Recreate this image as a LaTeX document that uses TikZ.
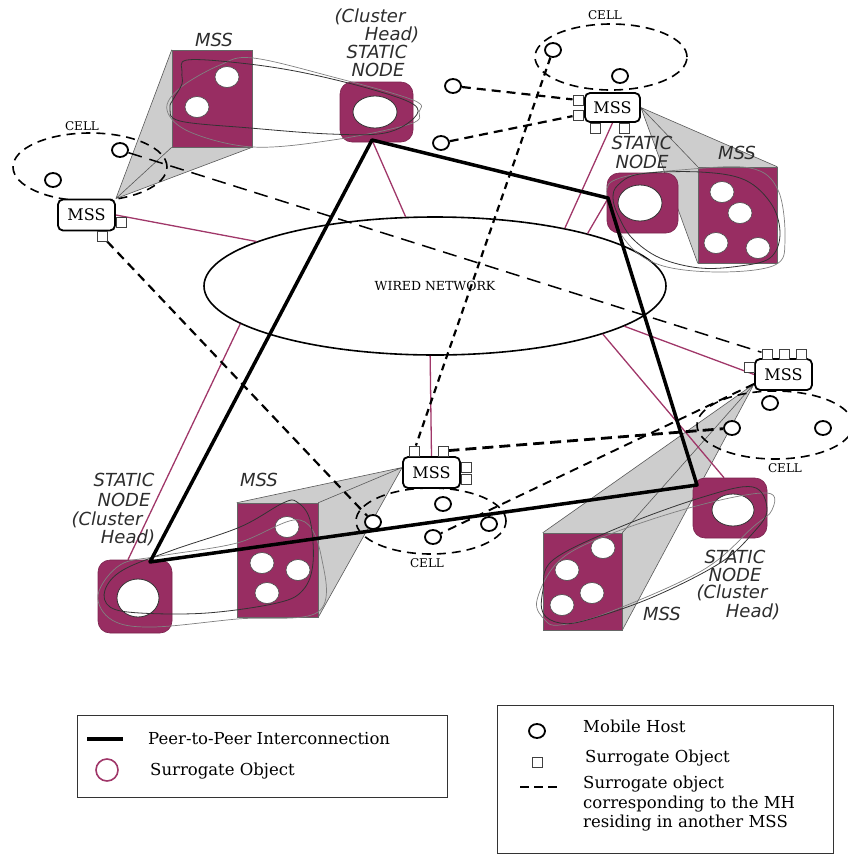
\documentclass[tikz,border=0pt]{standalone}
\usepackage{fontspec}
\setmainfont{DejaVu Serif}
\newfontfamily\lblfont{DejaVu Sans}
\usetikzlibrary{shapes.geometric,calc}
\pgfdeclarelayer{fanlayer}
\pgfdeclarelayer{encllayer}
\pgfdeclarelayer{netlayer}
\pgfsetlayers{fanlayer,encllayer,netlayer,main}
\definecolor{plum}{RGB}{152,45,98}
\definecolor{plumline}{RGB}{160,55,105}
\definecolor{fangrey}{RGB}{205,205,205}
\definecolor{labelgrey}{RGB}{45,45,45}
\begin{document}
\begin{tikzpicture}[x=1pt,y=-1pt,
  mssbox/.style={draw, line width=1.8pt, rounded corners=5pt, fill=white, inner sep=0pt,
    font=\fontsize{16}{16}\selectfont},
  sq/.style={draw=black!75, line width=0.9pt, fill=white, minimum size=10pt, inner sep=0pt},
  mh/.style={ellipse, draw, line width=1.8pt, fill=white, minimum width=16pt, minimum height=14pt, inner sep=0pt},
  stnode/.style={rectangle, rounded corners=12pt, fill=plum, draw=plum!80!black, line width=0.6pt, inner sep=0pt},
  hole/.style={ellipse, fill=white, draw=black!80, line width=0.8pt, inner sep=0pt},
  encl/.style={rectangle, fill=plum, draw=black!60, line width=0.5pt, inner sep=0pt},
  dot/.style={ellipse, fill=white, draw=black!70, line width=0.6pt, minimum width=24pt, minimum height=21pt, inner sep=0pt},
  fanline/.style={draw=black!65, line width=0.6pt},
  cellring/.style={draw, line width=1.6pt, dash pattern=on 9pt off 6pt},
  celllabel/.style={font=\fontsize{12}{12}\selectfont, inner sep=0pt},
  surr/.style={draw=plumline, line width=1.3pt},
  peer/.style={draw, line width=3.5pt, line join=round, line cap=round},
  foreign/.style={draw, line width=2.2pt, dash pattern=on 9pt off 6pt},
  foreignheavy/.style={draw, line width=2.8pt, dash pattern=on 11pt off 6pt},
  foreignlong/.style={draw, line width=1.5pt, dash pattern=on 14pt off 8pt},
  loopdark/.style={draw=black!80, line width=0.8pt},
  loopgrey/.style={draw=black!50, line width=0.7pt},
  ilabel/.style={font=\lblfont\itshape\fontsize{18}{18}\selectfont, text=labelgrey, inner sep=0pt},
  legtext/.style={font=\fontsize{16.5}{20}\selectfont, inner sep=0pt, anchor=west},
  legbox/.style={draw=black!80, line width=0.8pt, inner sep=0pt}
]
\useasboundingbox (0,0) rectangle (848,855);

% ---------- mobile support stations ----------
\node[mssbox, minimum width=57pt, minimum height=31pt] (mssL)  at (86.5,215) {MSS};
\node[mssbox, minimum width=55pt, minimum height=29pt] (mssTR) at (612.5,107.5) {MSS};
\node[mssbox, minimum width=57pt, minimum height=31pt] (mssR)  at (783.5,374.5) {MSS};
\node[mssbox, minimum width=57pt, minimum height=31pt] (mssC)  at (431.5,472.5) {MSS};

% surrogate objects held by each MSS
\node[sq] (sqL1) at (121,222) {};
\node[sq] (sqL2) at (102,236) {};
\node[sq] (sqTR1) at (578,100) {};
\node[sq] (sqTR2) at (578,115) {};
\node[sq] (sqTR3) at (595,128) {};
\node[sq] (sqTR4) at (624,128) {};
\node[sq] (sqR1) at (767,354) {};
\node[sq] (sqR2) at (784,354) {};
\node[sq] (sqR3) at (801,354) {};
\node[sq] (sqR4) at (749,367) {};
\node[sq] (sqC1) at (414,451) {};
\node[sq] (sqC2) at (443,451) {};
\node[sq] (sqC3) at (466,467) {};
\node[sq] (sqC4) at (466,479) {};

% mobile hosts
\node[mh] (mhTL1) at (120,150) {};
\node[mh] (mhTL2) at (53,180) {};
\node[mh] (mhT1) at (553,50) {};
\node[mh] (mhT2) at (620,76) {};
\node[mh] (mhT3) at (453,86) {};
\node[mh] (mhT4) at (441,143) {};
\node[mh] (mhR1) at (770,403) {};
\node[mh] (mhR2) at (732,428) {};
\node[mh] (mhR3) at (823,428) {};
\node[mh] (mhC1) at (443,504) {};
\node[mh] (mhC2) at (489,524) {};
\node[mh] (mhC3) at (433,537) {};
\node[mh] (mhC4) at (373,522) {};

% ---------- static nodes ----------
\node[stnode, minimum width=73pt, minimum height=60pt] (stTop) at (376.5,112) {};
\node[hole, minimum width=44pt, minimum height=32pt] (hTop) at (375,112) {};
\node[stnode, minimum width=71pt, minimum height=60pt] (stR) at (642.5,203) {};
\node[hole, minimum width=44pt, minimum height=36pt] (hR) at (640,203) {};
\node[stnode, minimum width=74pt, minimum height=60pt] (stBR) at (730,508) {};
\node[hole, minimum width=42pt, minimum height=32pt] (hBR) at (733,510) {};
\node[stnode, minimum width=74pt, minimum height=73pt] (stBL) at (135,596.5) {};
\node[hole, minimum width=42pt, minimum height=38pt] (hBL) at (138,598) {};

% ---------- enlarged views of the MSS contents ----------
\begin{pgfonlayer}{encllayer}
\node[encl, minimum width=80pt, minimum height=97pt] (encTL) at (212,98.5) {};
\node[dot] (dTL1) at (227,77) {};
\node[dot] (dTL2) at (197,107) {};
\node[encl, minimum width=79pt, minimum height=96pt] (encTR) at (737.5,215) {};
\node[dot] (dTR1) at (722,192) {};
\node[dot] (dTR2) at (740,213) {};
\node[dot] (dTR3) at (716,243) {};
\node[dot] (dTR4) at (758,248) {};
\node[encl, minimum width=81pt, minimum height=114pt] (encBL) at (277.5,560) {};
\node[dot] (dBL1) at (287,527) {};
\node[dot] (dBL2) at (262,563) {};
\node[dot] (dBL3) at (298,570) {};
\node[dot] (dBL4) at (267,593) {};
\node[encl, minimum width=79pt, minimum height=97pt] (encBR) at (582.5,581.5) {};
\node[dot] (dBR1) at (603,548) {};
\node[dot] (dBR2) at (567,570) {};
\node[dot] (dBR3) at (592,593) {};
\node[dot] (dBR4) at (562,605) {};
\end{pgfonlayer}

% projection fans from each MSS to its enlarged view
\coordinate (apxL) at (mssL.north east);
\coordinate (apxTR) at (mssTR.east);
\coordinate (apxC) at ($(mssC.west)+(0,-5)$);
\coordinate (apxR) at ($(mssR.south west)+(0,-7)$);
\begin{pgfonlayer}{fanlayer}
\fill[fangrey] (apxL) -- (encTL.north west) -- (encTL.south east) -- cycle;
\draw[fanline] (apxL) -- (encTL.north west) (apxL) -- (encTL.south west) (apxL) -- (encTL.south east);
\fill[fangrey] (apxTR) -- (encTR.north east) -- (encTR.north west) -- (encTR.south west) -- cycle;
\draw[fanline] (apxTR) -- (encTR.north east) (apxTR) -- (encTR.north west) (apxTR) -- (encTR.south west);
\fill[fangrey] (apxC) -- (encBL.north west) -- (encBL.north east) -- (encBL.south east) -- cycle;
\draw[fanline] (apxC) -- (encBL.north west) (apxC) -- (encBL.north east) (apxC) -- (encBL.south east);
\fill[fangrey] (apxR) -- (encBR.north west) -- (encBR.north east) -- (encBR.south east) -- cycle;
\draw[fanline] (apxR) -- (encBR.north west) (apxR) -- (encBR.north east) (apxR) -- (encBR.south east);
\end{pgfonlayer}

% ---------- wired network, cells and links ----------
\begin{pgfonlayer}{netlayer}
\node[ellipse, draw, line width=1.6pt, minimum width=462pt, minimum height=138pt, inner sep=0pt,
  font=\fontsize{12.5}{12.5}\selectfont] (wired) at (435,286) {WIRED NETWORK};

\draw[cellring] (90,167) ellipse [x radius=77pt, y radius=34pt];
\draw[cellring] (611,57) ellipse [x radius=76pt, y radius=33pt];
\draw[cellring] (775,425) ellipse [x radius=78pt, y radius=34pt];
\draw[cellring] (431,521) ellipse [x radius=75pt, y radius=33pt];

% surrogate object links into the wired network
\coordinate (pTop) at (372,140);
\coordinate (pR) at (608,198);
\coordinate (pBR) at (697,485);
\coordinate (pBL) at (150,562);
\draw[surr] (pTop) -- (wired.113.8);
\draw[surr] (mssL.east) -- (wired.166.6);
\draw[surr] (mssTR.south) -- (wired.24);
\draw[surr] ($(stR.west)+(1,-4)$) -- (wired.19.8);
\draw[surr] (mssR.west) -- (wired.-12.8);
\draw[surr] ($(stBR.north)+(-6,0)$) -- (wired.-16.8);
\draw[surr] (mssC.north) -- (wired.-94);
\draw[surr] ($(stBL.north)+(-7,0)$) -- (wired.191.3);

% surrogates of mobile hosts residing in another MSS
\draw[foreign] (mhT3) -- (sqTR1);
\draw[foreign] (mhT4) -- (sqTR2);
\draw[foreign, dash pattern=on 7pt off 5pt] (mhT1) -- (sqC1);
\draw[foreignheavy] (sqC2) -- (mhR2);
\draw[foreign] (sqL2) -- (mhC4);
\draw[foreignlong] (mhTL1) -- (sqR1);
\draw[foreign, line width=1.9pt] (apxR) -- (mhC3);
\end{pgfonlayer}

% outlines grouping the surrogate objects of each cluster
\draw[loopgrey] plot[smooth cycle, tension=0.6] coordinates {(167,110) (180,88) (220,65) (253,58) (333,77) (413,100) (419,112) (410,124) (333,140) (253,147) (190,132)};
\draw[loopdark] plot[smooth cycle, tension=0.6] coordinates {(187,60) (182,72) (182,84) (174,98) (170,108) (180,121) (250,128) (330,134) (385,133) (414,118) (413,104) (367,88) (300,72) (240,63)};
\draw[loopgrey] plot[smooth cycle, tension=0.6] coordinates {(607,195) (620,178) (680,170) (750,168) (778,190) (785,240) (775,265) (720,272) (660,265) (625,240)};
\draw[loopdark] plot[smooth cycle, tension=0.6] coordinates {(613,198) (618,185) (640,174) (700,172) (745,180) (772,205) (780,235) (770,258) (740,266) (700,268) (660,258) (632,238) (618,215)};
\draw[loopgrey] plot[smooth cycle, tension=0.6] coordinates {(98,595) (120,565) (160,556) (237,543) (300,520) (322,560) (318,612) (237,619) (152,627) (112,620)};
\draw[loopdark] plot[smooth cycle, tension=0.6] coordinates {(105,590) (123,570) (173,550) (240,527) (283,503) (297,502) (310,520) (313,563) (303,590) (277,603) (207,613) (140,613) (110,607)};
\draw[loopgrey] plot[smooth cycle, tension=0.6] coordinates {(537,600) (560,560) (613,533) (700,505) (767,493) (772,510) (753,527) (703,570) (607,613) (560,625) (545,620)};
\draw[loopdark] plot[smooth cycle, tension=0.6] coordinates {(543,590) (553,560) (620,527) (703,497) (753,487) (767,510) (753,533) (720,563) (653,597) (587,620) (560,623) (543,613)};

% peer-to-peer ring of cluster heads
\draw[peer] (pTop) -- (pR) -- (pBR) -- (pBL) -- cycle;

% ---------- labels ----------
\node[celllabel] (cTL) at (82,126) {CELL};
\node[celllabel] (cT) at (605,15) {CELL};
\node[celllabel] (cR) at (785,468) {CELL};
\node[celllabel] (cC) at (427,563) {CELL};

\node[ilabel] (lTop1) at (370,17) {(Cluster};
\node[ilabel] (lTop2) at (392,35) {Head)};
\node[ilabel] (lTop3) at (377,52) {STATIC};
\node[ilabel] (lTop4) at (378,70) {NODE};
\node[ilabel] (lR1) at (642,143) {STATIC};
\node[ilabel] (lR2) at (642,162) {NODE};
\node[ilabel] (lBL1) at (124,480) {STATIC};
\node[ilabel] (lBL2) at (124,500) {NODE};
\node[ilabel] (lBL3) at (107,520) {(Cluster};
\node[ilabel] (lBL4) at (128,538) {Head)};
\node[ilabel] (lBR1) at (735,557) {STATIC};
\node[ilabel] (lBR2) at (735,575) {NODE};
\node[ilabel] (lBR3) at (732,593) {(Cluster};
\node[ilabel] (lBR4) at (753,612) {Head)};
\node[ilabel] (mTL) at (214,40) {MSS};
\node[ilabel] (mTR) at (737,153) {MSS};
\node[ilabel] (mBL) at (259,480) {MSS};
\node[ilabel] (mBR) at (662,614) {MSS};

% ---------- legends ----------
\node[legbox, minimum width=370pt, minimum height=82pt] (legA) at (262,756) {};
\coordinate (legPa) at (87,739);
\coordinate (legPb) at (123,739);
\draw[line width=3.5pt] (legPa) -- (legPb);
\node[legtext] (legPt) at (148,739) {Peer-to-Peer Interconnection};
\node[circle, draw=plumline, line width=1.6pt, minimum size=22pt, inner sep=0pt] (legS) at (107,770) {};
\node[legtext] (legSt) at (150,771) {Surrogate Object};

\node[legbox, minimum width=336pt, minimum height=148pt] (legB) at (665,779) {};
\node[mh] (legM) at (537,731) {};
\node[legtext] (legMt) at (583,726) {Mobile Host};
\node[sq] (legQ) at (537,762) {};
\node[legtext] (legQt) at (585,758) {Surrogate Object};
\coordinate (legDa) at (520,787);
\coordinate (legDb) at (560,787);
\draw[line width=2.6pt, dash pattern=on 9pt off 5pt] (legDa) -- (legDb);
\node[legtext, anchor=north west, align=left, font=\fontsize{16.5}{19.5}\selectfont] (legDt) at (583,776)
  {Surrogate object\\corresponding to the MH\\residing in another MSS};
\end{tikzpicture}
\end{document}
